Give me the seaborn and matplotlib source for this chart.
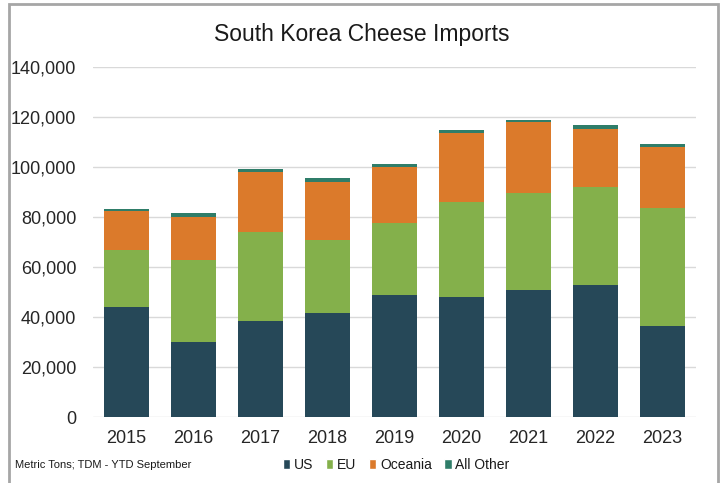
import numpy as np
import pandas as pd
import matplotlib.pyplot as plt
import seaborn as sns
from matplotlib.patches import Patch, Rectangle

# Данные (метрические тонны, по рисунку)
years = ['2015', '2016', '2017', '2018', '2019', '2020', '2021', '2022', '2023']
us = [44.1, 30.0, 38.5, 41.6, 48.9, 47.9, 50.8, 52.7, 36.5]
eu = [22.8, 32.7, 35.6, 29.1, 28.7, 38.1, 38.7, 39.3, 47.1]
oceania = [15.4, 17.4, 23.9, 23.4, 22.3, 27.6, 28.4, 23.1, 24.3]
all_other = [0.8, 1.4, 1.2, 1.4, 1.2, 1.2, 0.9, 1.7, 1.2]

series = ['US', 'EU', 'Oceania', 'All Other']
colors = ['#264858', '#84b04b', '#db7a2b', '#2f7d69']

df = pd.DataFrame({'Year': years, 'US': us, 'EU': eu,
                   'Oceania': oceania, 'All Other': all_other})
df[series] = df[series] * 1000

# Накопленные суммы для стека
cum = df[series].cumsum(axis=1)
cum['Year'] = df['Year']

sns.set_style('white')
plt.rcParams['font.family'] = ['Liberation Sans', 'DejaVu Sans']

fig = plt.figure(figsize=(7.23, 4.83), dpi=100)
ax = fig.add_axes([0.1286, 0.1366, 0.8341, 0.7247])

# Рисуем от верхнего слоя к нижнему, чтобы получить stacked bar
for name, color in reversed(list(zip(series, colors))):
    sns.barplot(data=cum, x='Year', y=name, color=color, width=0.68,
                saturation=1, linewidth=0, ax=ax, zorder=3)

ax.set_ylim(0, 140000)
ax.set_xlim(-0.5, 8.5)
ax.set_yticks(np.arange(0, 140001, 20000))
ax.yaxis.set_major_formatter(plt.FuncFormatter(lambda v, p: f'{int(v):,}'))
ax.grid(axis='y', color='#d9d9d9', linewidth=1, zorder=0)
ax.set_axisbelow(True)
for s in ax.spines.values():
    s.set_visible(False)
ax.set_xlabel('')
ax.set_ylabel('')
ax.tick_params(axis='y', labelsize=13, length=0, pad=12, colors='#262626')
ax.tick_params(axis='x', labelsize=13, length=0, pad=9, colors='#262626')

fig.text(0.5, 0.928, 'South Korea Cheese Imports', ha='center', va='center',
         fontsize=16.5, color='#1a1a1a')
fig.text(0.021, 0.037, 'Metric Tons; TDM - YTD September', ha='left',
         va='center', fontsize=8, color='#1a1a1a')

handles = [Patch(facecolor=c, label=n) for n, c in zip(series, colors)]
fig.legend(handles=handles, loc='center', bbox_to_anchor=(0.548, 0.037),
           ncol=4, frameon=False, handlelength=0.55, handleheight=0.75,
           handletextpad=0.25, columnspacing=0.9, prop={'size': 10},
           labelcolor='#1a1a1a')

# Серая рамка вокруг графика
fig.patches.append(Rectangle((9 / 723, -0.05), (718 - 9) / 723, 1 - 4 / 483 + 0.05,
                             transform=fig.transFigure, fill=False,
                             edgecolor='#a6a6a6', linewidth=2))

fig.savefig('out.png', dpi=100)
